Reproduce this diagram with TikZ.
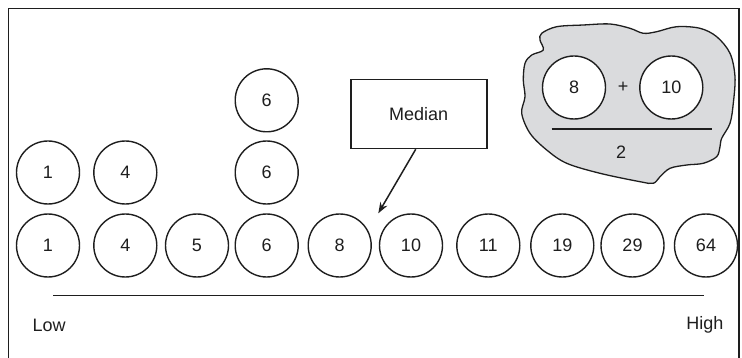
\documentclass[tikz,border=0pt]{standalone}
\usepackage{fontspec}
\setmainfont{Liberation Sans}
\usetikzlibrary{arrows.meta}
\definecolor{blobgray}{RGB}{218,219,221}
\definecolor{ink}{RGB}{30,30,30}
\tikzset{
  val/.style={circle,draw=ink,line width=1.4pt,minimum size=63pt,inner sep=0pt,fill=white,text=ink,font=\fontsize{18}{20}\selectfont},
  lbl/.style={text=ink,font=\fontsize{18}{20}\selectfont,inner sep=0pt},
  frameline/.style={draw=ink,line width=1.6pt},
  medbox/.style={rectangle,draw=ink,line width=1.6pt,minimum width=136pt,minimum height=69pt,text=ink,font=\fontsize{18}{20}\selectfont},
  axisline/.style={draw=ink,line width=1.5pt}
}
\begin{document}
\begin{tikzpicture}[x=1pt,y=-1pt]
\useasboundingbox (0,0) rectangle (742,358);
% frame (open at bottom)
\draw[frameline] (8.5,358) -- (8.5,8.5) -- (739,8.5) -- (739,358);
% blob
\draw[draw=ink,line width=1.3pt,fill=blobgray] plot[smooth cycle,tension=0.55] coordinates {
 (541.7,33.3) (556.7,26.7) (583.3,25) (610,24) (630,28.3) (643.3,33.3) (656.7,31.7)
 (676.7,26.7) (700,28.3) (716.7,36.7) (730,53.3) (735,76.7) (733.3,103.3) (730,123.3)
 (721.7,138.3) (720,146.7) (716.7,156.7) (703.3,163.3) (686.7,165) (670,168.3)
 (660,176.7) (653.3,183.3) (640,181.7) (600,173.3) (566.7,163.3) (546.7,150)
 (530,133.3) (521.7,113.3) (525,96.7) (523.3,80) (525,63.3) (531.7,55) (543.3,50) (540,40)};
\node[val] (b8) at (574,87.5) {8};
\node[val] (b10) at (671.3,87.5) {10};
\node[lbl] (plus) at (623,87.5) {+};
\coordinate (fl) at (551.7,129);
\coordinate (fr) at (712.3,129);
\draw[axisline] (fl) -- (fr);
\node[lbl] (two) at (621,152.5) {2};
% bottom row
\node[val] (a1) at (48,245.5) {1};
\node[val] (a2) at (125.3,245.5) {4};
\node[val] (a3) at (197,245.5) {5};
\node[val] (a4) at (266.7,245.5) {6};
\node[val] (a5) at (339.7,245.5) {8};
\node[val] (a6) at (411,245.5) {10};
\node[val] (a7) at (488.3,245.5) {11};
\node[val] (a8) at (562.3,245.5) {19};
\node[val] (a9) at (632.5,245.5) {29};
\node[val] (a10) at (706,245.5) {64};
% stacks
\node[val] (s1) at (48,172.5) {1};
\node[val] (s2) at (125.3,172.5) {4};
\node[val] (s4) at (266.7,172.5) {6};
\node[val] (t4) at (266.7,100.3) {6};
% median
\node[medbox] (med) at (418.7,114) {Median};
\coordinate (tip) at (378.3,213.3);
\draw[draw=ink,line width=1.5pt,-{Stealth[length=11pt,width=8pt]}] ([xshift=-3pt]med.south) -- (tip);
% axis
\coordinate (axl) at (53.3,295.7);
\coordinate (axr) at (703.7,295.7);
\draw[axisline] (axl) -- (axr);
\node[lbl,anchor=west] (low) at (32.3,325) {Low};
\node[lbl,anchor=east] (high) at (723.7,325) {High};
\end{tikzpicture}
\end{document}
